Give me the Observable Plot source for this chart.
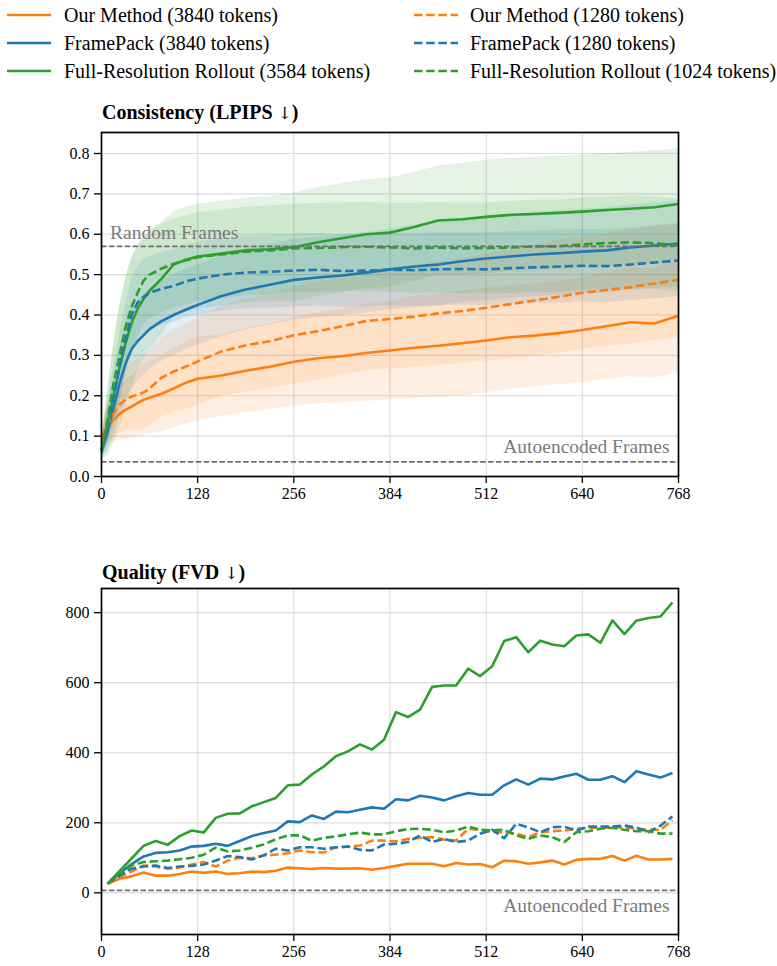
<!DOCTYPE html>
<html><head><meta charset="utf-8">
<script src="https://cdn.jsdelivr.net/npm/d3@7"></script>
<script src="https://cdn.jsdelivr.net/npm/@observablehq/plot@0.6"></script>
<style>
body{margin:0;background:#fff;}
#root{position:relative;width:777px;height:966px;font-family:"Liberation Serif","Times New Roman",serif;color:#000;}
.legtxt{position:absolute;font-size:20px;line-height:20px;white-space:nowrap;}
.legsw{position:absolute;}
.title{position:absolute;left:102px;font-size:20px;line-height:20px;font-weight:bold;white-space:nowrap;}
.title .arr{font-family:"DejaVu Serif",serif;font-weight:normal;font-size:17px;}
.panel{position:absolute;left:0;}
</style></head><body><div id="root"></div>
<script>
// ---------- legend / series names ----------
const seriesNames = [
  "Our Method (3840 tokens)", "FramePack (3840 tokens)", "Full-Resolution Rollout (3584 tokens)",
  "Our Method (1280 tokens)", "FramePack (1280 tokens)", "Full-Resolution Rollout (1024 tokens)"
];
const seriesColors = ["#ff7f0e", "#1f77b4", "#2ca02c", "#ff7f0e", "#1f77b4", "#2ca02c"];
const seriesDashed = [false, false, false, true, true, true];

// ---------- Consistency (LPIPS) ----------
const lpipsTitle = ["Consistency (LPIPS ", "↓", ")"];
const frameTicks = [0, 128, 256, 384, 512, 640, 768];
const lpipsTicks = [0, 0.1, 0.2, 0.3, 0.4, 0.5, 0.6, 0.7, 0.8];
const lpipsFrames = [0, 8, 16, 24, 32, 40, 48, 56, 64, 80, 96, 112, 128, 160, 192, 224, 256, 288, 320, 352, 384, 416, 448, 480, 512, 544, 576, 608, 640, 672, 704, 736, 768];
const lpipsOurs3840 = [0.097, 0.125, 0.14, 0.155, 0.165, 0.173, 0.182, 0.19, 0.195, 0.205, 0.218, 0.232, 0.242, 0.25, 0.262, 0.272, 0.284, 0.293, 0.298, 0.306, 0.312, 0.319, 0.324, 0.33, 0.337, 0.345, 0.349, 0.355, 0.363, 0.372, 0.382, 0.379, 0.398];
const lpipsOurs3840Std = [0.02, 0.04, 0.055, 0.065, 0.072, 0.078, 0.083, 0.087, 0.09, 0.094, 0.098, 0.102, 0.104, 0.102, 0.104, 0.106, 0.11, 0.113, 0.116, 0.12, 0.122, 0.126, 0.128, 0.13, 0.13, 0.128, 0.128, 0.128, 0.13, 0.132, 0.135, 0.136, 0.14];
const lpipsFP3840 = [0.06, 0.11, 0.17, 0.23, 0.28, 0.315, 0.335, 0.35, 0.365, 0.385, 0.4, 0.413, 0.425, 0.447, 0.463, 0.475, 0.487, 0.493, 0.498, 0.505, 0.513, 0.52, 0.525, 0.533, 0.54, 0.545, 0.55, 0.553, 0.557, 0.56, 0.567, 0.572, 0.577];
const lpipsFP3840Std = [0.02, 0.05, 0.07, 0.085, 0.095, 0.1, 0.1, 0.1, 0.1, 0.1, 0.1, 0.1, 0.1, 0.1, 0.1, 0.1, 0.1, 0.1, 0.1, 0.1, 0.1, 0.102, 0.102, 0.102, 0.104, 0.104, 0.104, 0.105, 0.105, 0.105, 0.106, 0.106, 0.106];
const lpipsFull3584 = [0.065, 0.13, 0.2, 0.27, 0.33, 0.38, 0.415, 0.44, 0.46, 0.49, 0.525, 0.537, 0.545, 0.552, 0.56, 0.563, 0.568, 0.58, 0.59, 0.6, 0.604, 0.618, 0.634, 0.637, 0.643, 0.648, 0.65, 0.653, 0.656, 0.66, 0.663, 0.667, 0.675];
const lpipsFull3584Std = [0.02, 0.08, 0.12, 0.15, 0.16, 0.16, 0.155, 0.15, 0.145, 0.14, 0.13, 0.13, 0.13, 0.13, 0.13, 0.13, 0.135, 0.135, 0.135, 0.135, 0.135, 0.135, 0.135, 0.138, 0.14, 0.14, 0.14, 0.14, 0.14, 0.14, 0.14, 0.14, 0.137];
const lpipsOurs1280 = [0.097, 0.13, 0.155, 0.178, 0.19, 0.198, 0.203, 0.208, 0.218, 0.245, 0.26, 0.272, 0.285, 0.31, 0.325, 0.335, 0.35, 0.36, 0.372, 0.385, 0.39, 0.396, 0.404, 0.41, 0.418, 0.427, 0.436, 0.445, 0.455, 0.462, 0.469, 0.478, 0.487];
const lpipsOurs1280Std = [0.02, 0.045, 0.06, 0.07, 0.078, 0.083, 0.087, 0.09, 0.093, 0.098, 0.102, 0.106, 0.108, 0.112, 0.115, 0.118, 0.12, 0.121, 0.122, 0.123, 0.124, 0.126, 0.128, 0.13, 0.132, 0.135, 0.138, 0.14, 0.14, 0.14, 0.141, 0.142, 0.142];
const lpipsFP1280 = [0.065, 0.13, 0.2, 0.27, 0.34, 0.4, 0.43, 0.445, 0.455, 0.465, 0.472, 0.483, 0.49, 0.5, 0.505, 0.507, 0.51, 0.512, 0.509, 0.51, 0.512, 0.511, 0.513, 0.514, 0.513, 0.516, 0.518, 0.52, 0.522, 0.521, 0.525, 0.53, 0.535];
const lpipsFP1280Std = [0.02, 0.05, 0.07, 0.08, 0.085, 0.09, 0.09, 0.09, 0.09, 0.09, 0.09, 0.09, 0.09, 0.09, 0.09, 0.09, 0.09, 0.09, 0.09, 0.09, 0.09, 0.09, 0.09, 0.09, 0.09, 0.09, 0.09, 0.09, 0.09, 0.09, 0.09, 0.09, 0.09];
const lpipsFull1024 = [0.065, 0.14, 0.23, 0.3, 0.37, 0.42, 0.455, 0.485, 0.5, 0.515, 0.527, 0.535, 0.543, 0.55, 0.557, 0.56, 0.565, 0.566, 0.568, 0.569, 0.567, 0.565, 0.567, 0.565, 0.566, 0.567, 0.57, 0.57, 0.575, 0.578, 0.58, 0.578, 0.573];
const lpipsFull1024Std = [0.02, 0.07, 0.1, 0.12, 0.12, 0.12, 0.115, 0.11, 0.11, 0.11, 0.11, 0.11, 0.11, 0.11, 0.11, 0.11, 0.11, 0.11, 0.11, 0.11, 0.11, 0.112, 0.112, 0.112, 0.112, 0.114, 0.114, 0.114, 0.115, 0.115, 0.115, 0.115, 0.115];
const lpipsRandomFrames = 0.57;
const lpipsAutoencoded = 0.036;

// ---------- Quality (FVD) ----------
const fvdTitle = ["Quality (FVD ", "↓", ")"];
const fvdTicks = [0, 200, 400, 600, 800];
const fvdFrames = [8, 24, 40, 56, 72, 88, 104, 120, 136, 152, 168, 184, 200, 216, 232, 248, 264, 280, 296, 312, 328, 344, 360, 376, 392, 408, 424, 440, 456, 472, 488, 504, 520, 536, 552, 568, 584, 600, 616, 632, 648, 664, 680, 696, 712, 728, 744, 760];
const fvdOurs3840 = [26, 40, 47, 58, 49, 49, 54, 61, 57, 61, 54, 56, 61, 59, 63, 72, 70, 68, 71, 69, 69, 70, 66, 71, 77, 83, 83, 83, 76, 85, 81, 82, 73, 92, 90, 83, 87, 92, 81, 94, 97, 97, 105, 92, 106, 95, 95, 97];
const fvdFP3840 = [26, 55, 82, 104, 114, 116, 121, 132, 134, 140, 134, 148, 162, 171, 178, 204, 202, 221, 211, 232, 230, 237, 244, 240, 267, 264, 277, 272, 264, 276, 285, 280, 280, 307, 324, 309, 326, 324, 332, 340, 323, 323, 333, 316, 347, 338, 329, 342];
const fvdFull3584 = [26, 62, 98, 134, 148, 137, 162, 178, 172, 214, 226, 227, 247, 259, 271, 307, 309, 338, 361, 390, 404, 424, 409, 437, 516, 502, 523, 588, 592, 592, 640, 619, 647, 719, 730, 687, 720, 709, 704, 735, 738, 714, 778, 739, 777, 785, 789, 829];
const fvdOurs1280 = [26, 45, 61, 78, 75, 69, 73, 81, 88, 75, 92, 100, 99, 107, 109, 113, 121, 116, 115, 130, 132, 135, 149, 149, 147, 154, 157, 159, 152, 149, 183, 180, 173, 173, 169, 159, 173, 176, 178, 183, 186, 186, 186, 187, 183, 180, 180, 207];
const fvdFP1280 = [26, 49, 69, 75, 78, 71, 75, 77, 81, 92, 105, 102, 95, 107, 126, 121, 130, 130, 126, 130, 132, 123, 121, 138, 140, 145, 164, 145, 154, 145, 149, 169, 180, 156, 197, 187, 173, 187, 189, 178, 189, 189, 189, 192, 186, 173, 192, 218];
const fvdFull1024 = [26, 54, 78, 88, 90, 92, 96, 100, 109, 129, 118, 121, 129, 138, 153, 164, 164, 149, 157, 161, 167, 172, 167, 167, 176, 182, 183, 180, 173, 178, 189, 180, 178, 180, 164, 154, 164, 159, 145, 173, 176, 183, 186, 180, 176, 176, 169, 169];
const fvdAutoencoded = 7;
const refLabels = ["Random Frames", "Autoencoded Frames"];

// ---------- build ----------
const gray = "#6f6f6f";
const lineW = 2.6;
const dash = "8.5,3.7";
const refDash = "5.5,2.4";
const baseStyle = {fontFamily: '"Liberation Serif","Times New Roman",serif', fontSize: "16px", color: "#000", background: "transparent", overflow: "visible"};

const lpipsMeans = [lpipsOurs3840, lpipsFP3840, lpipsFull3584, lpipsOurs1280, lpipsFP1280, lpipsFull1024];
const lpipsStds = [lpipsOurs3840Std, lpipsFP3840Std, lpipsFull3584Std, lpipsOurs1280Std, lpipsFP1280Std, lpipsFull1024Std];
const fvdSeries = [fvdOurs3840, fvdFP3840, fvdFull3584, fvdOurs1280, fvdFP1280, fvdFull1024];

const lpipsRows = lpipsMeans.map((m, s) => lpipsFrames.map((f, i) => ({f, y: m[i], lo: m[i] - lpipsStds[s][i], hi: m[i] + lpipsStds[s][i]})));
const fvdRows = fvdSeries.map(m => fvdFrames.map((f, i) => ({f, y: m[i]})));

function lineMarks(rowsList) {
  return rowsList.map((rows, s) => Plot.line(rows, {
    x: "f", y: "y", stroke: seriesColors[s], strokeWidth: lineW,
    strokeDasharray: seriesDashed[s] ? dash : null, strokeLinejoin: "round", strokeLinecap: "butt"
  }));
}
function grids(yTicks) {
  return [
    Plot.gridX(frameTicks, {stroke: "#dcdcdc", strokeOpacity: 1, strokeWidth: 1.2}),
    Plot.gridY(yTicks, {stroke: "#dcdcdc", strokeOpacity: 1, strokeWidth: 1.2})
  ];
}
function axes(yTicks, yFmt) {
  return [
    Plot.axisX(frameTicks, {tickSize: 7, tickPadding: 4, label: null, stroke: "#000", strokeWidth: 1.3, fontSize: 16}),
    Plot.axisY(yTicks, {tickSize: 7, tickPadding: 5, label: null, tickFormat: yFmt, stroke: "#000", strokeWidth: 1.3, fontSize: 16}),
    Plot.frame({stroke: "#000", strokeWidth: 1.7})
  ];
}

const topPlot = Plot.plot({
  width: 777, height: 420, marginTop: 32, marginBottom: 44, marginLeft: 101, marginRight: 99,
  x: {domain: [0, 768], label: null},
  y: {domain: [0, 0.852], label: null},
  style: baseStyle,
  marks: [
    ...grids(lpipsTicks),
    ...lpipsRows.map((rows, s) => Plot.areaY(rows, {x: "f", y1: "lo", y2: "hi", fill: seriesColors[s], fillOpacity: 0.12})),
    ...lineMarks(lpipsRows),
    Plot.ruleY([lpipsRandomFrames, lpipsAutoencoded], {stroke: gray, strokeWidth: 1.8, strokeDasharray: refDash}),
    Plot.text([refLabels[0]], {x: frameTicks[0], y: lpipsRandomFrames, text: d => d, textAnchor: "start", lineAnchor: "bottom", dx: 8.5, dy: -7.5, fill: "#7a7a7a", fontSize: 19.5}),
    Plot.text([refLabels[1]], {x: frameTicks[frameTicks.length - 1], y: lpipsAutoencoded, text: d => d, textAnchor: "end", lineAnchor: "bottom", dx: -9, dy: -8.5, fill: "#7a7a7a", fontSize: 19.5}),
    ...axes(lpipsTicks, d => d.toFixed(1))
  ]
});

const botPlot = Plot.plot({
  width: 777, height: 410, marginTop: 32, marginBottom: 32, marginLeft: 101, marginRight: 99,
  x: {domain: [0, 768], label: null},
  y: {domain: [-119, 869], label: null},
  style: baseStyle,
  marks: [
    ...grids(fvdTicks),
    ...lineMarks(fvdRows),
    Plot.ruleY([fvdAutoencoded], {stroke: gray, strokeWidth: 1.8, strokeDasharray: refDash}),
    Plot.text([refLabels[1]], {x: frameTicks[frameTicks.length - 1], y: fvdAutoencoded, text: d => d, textAnchor: "end", lineAnchor: "bottom", dx: -9, dy: 21.5, fill: "#7a7a7a", fontSize: 19.5}),
    ...axes(fvdTicks, d => String(d))
  ]
});

const root = document.getElementById("root");
// legend
const legCols = [{sw: 7, tx: 64}, {sw: 414, tx: 470}];
const legRows = [15, 43, 71];
seriesNames.forEach((name, s) => {
  const col = legCols[Math.floor(s / 3)], cy = legRows[s % 3];
  const sw = document.createElementNS("http://www.w3.org/2000/svg", "svg");
  sw.setAttribute("width", 44); sw.setAttribute("height", 10);
  sw.setAttribute("class", "legsw");
  sw.style.left = col.sw + "px"; sw.style.top = (cy - 5) + "px";
  const ln = document.createElementNS("http://www.w3.org/2000/svg", "line");
  ln.setAttribute("x1", 0); ln.setAttribute("x2", 44); ln.setAttribute("y1", 5); ln.setAttribute("y2", 5);
  ln.setAttribute("stroke", seriesColors[s]); ln.setAttribute("stroke-width", lineW);
  if (seriesDashed[s]) ln.setAttribute("stroke-dasharray", dash);
  sw.appendChild(ln);
  root.appendChild(sw);
  const t = document.createElement("div");
  t.className = "legtxt"; t.textContent = name;
  t.style.left = col.tx + "px"; t.style.top = (cy - 10) + "px";
  root.appendChild(t);
});
// titles
function addTitle(parts, top) {
  const d = document.createElement("div"); d.className = "title"; d.style.top = top + "px";
  d.appendChild(document.createTextNode(parts[0]));
  const a = document.createElement("span"); a.className = "arr"; a.textContent = parts[1]; d.appendChild(a);
  d.appendChild(document.createTextNode(parts[2]));
  root.appendChild(d);
}
addTitle(lpipsTitle, 102);
addTitle(fvdTitle, 562);
// panels
topPlot.classList.add("panel"); topPlot.style.top = "100px"; topPlot.style.position = "absolute"; root.appendChild(topPlot);
botPlot.classList.add("panel"); botPlot.style.top = "556px"; botPlot.style.position = "absolute"; root.appendChild(botPlot);
</script></body></html>
